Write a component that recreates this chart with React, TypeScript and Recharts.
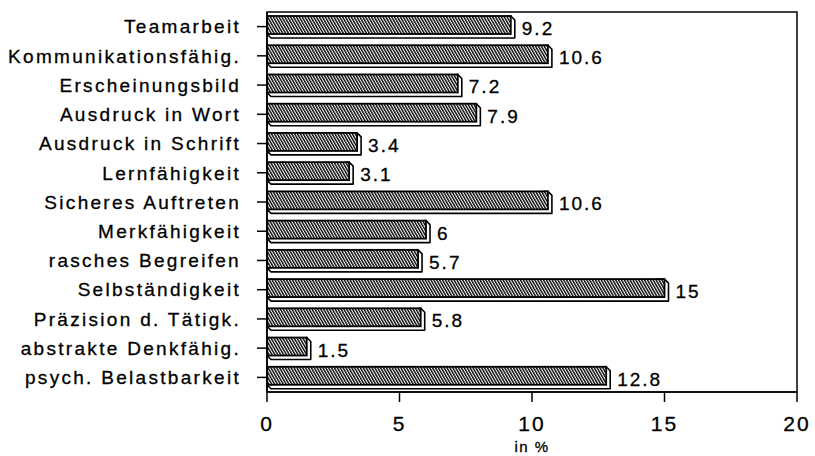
import React from 'react';
import { BarChart, Bar, XAxis, YAxis, LabelList, Label, ReferenceArea } from 'recharts';

const categories = [
  'Teamarbeit',
  'Kommunikationsfähig.',
  'Erscheinungsbild',
  'Ausdruck in Wort',
  'Ausdruck in Schrift',
  'Lernfähigkeit',
  'Sicheres Auftreten',
  'Merkfähigkeit',
  'rasches Begreifen',
  'Selbständigkeit',
  'Präzision d. Tätigk.',
  'abstrakte Denkfähig.',
  'psych. Belastbarkeit',
];
const values = [9.2, 10.6, 7.2, 7.9, 3.4, 3.1, 10.6, 6, 5.7, 15, 5.8, 1.5, 12.8];
const xTicks = [0, 5, 10, 15, 20];
const axisTitle = 'in %';

const data = categories.map((name, i) => ({ name, value: values[i] }));

const FONT = '"Liberation Sans", Arial, sans-serif';
const D = 4;

const Bar3D = (props: any) => {
  const { x, y, width, height } = props;
  const h = height - D;
  const side = `M${x},${y + h} L${x + D},${y + h + D} L${x + width + D},${y + h + D} L${x + width + D},${y + D} L${x + width},${y} Z`;
  return (
    <g>
      <path d={side} fill="#fff" stroke="#000" strokeWidth={1.6} strokeLinejoin="round" />
      <rect x={x} y={y} width={width} height={h} fill="url(#hatch)" stroke="#000" strokeWidth={1.8} />
    </g>
  );
};

const ValueLabel = (props: any) => {
  const { x, y, width, height, value } = props;
  return (
    <text
      x={x + width + D + 7}
      y={y + height / 2 + 8}
      fontFamily={FONT}
      fontSize={19}
      letterSpacing={2}
      fill="#000"
      stroke="#000"
      strokeWidth={0.3}
    >
      {String(value)}
    </text>
  );
};

const AxisTitle = (props: any) => {
  const { viewBox } = props;
  const cx = viewBox.x + viewBox.width / 2;
  return (
    <text x={cx} y={viewBox.y + 60} textAnchor="middle" fontFamily={FONT} fontSize={15} letterSpacing={1.5} fill="#000" stroke="#000" strokeWidth={0.3}>
      {axisTitle}
    </text>
  );
};

export default function App() {
  return (
    <div style={{ position: 'absolute', left: 0, top: 0, width: 815, height: 456, background: '#fff' }}>
      <BarChart
        width={815}
        height={456}
        data={data}
        layout="vertical"
        margin={{ top: 12, right: 18, bottom: 24, left: 6 }}
        barSize={22}
      >
        <defs>
          <pattern id="hatch" width="2.5" height="10" patternUnits="userSpaceOnUse" patternTransform="rotate(-30)">
            <rect width="2.5" height="10" fill="#fff" />
            <line x1="0.7" y1="0" x2="0.7" y2="10" stroke="#000" strokeWidth="1.4" />
          </pattern>
        </defs>
        <ReferenceArea x1={0} x2={20} fill="none" stroke="#000" strokeWidth={1.5} ifOverflow="visible" />
        <XAxis
          type="number"
          domain={[0, 20]}
          ticks={xTicks}
          interval={0}
          height={40}
          tickSize={10}
          tickMargin={14}
          axisLine={{ stroke: '#000', strokeWidth: 1.5 }}
          tickLine={{ stroke: '#000', strokeWidth: 1.5 }}
          tick={{ fill: '#000', fontFamily: FONT, fontSize: 21, letterSpacing: 2, stroke: '#000', strokeWidth: 0.3 }}
        >
          <Label content={<AxisTitle />} />
        </XAxis>
        <YAxis
          type="category"
          dataKey="name"
          width={261}
          interval={0}
          tickSize={10}
          tickMargin={16}
          axisLine={{ stroke: '#000', strokeWidth: 1.5 }}
          tickLine={{ stroke: '#000', strokeWidth: 1.5 }}
          tick={{ fill: '#000', fontFamily: FONT, fontSize: 19, letterSpacing: 2.3, stroke: '#000', strokeWidth: 0.3 }}
        />
        <Bar dataKey="value" shape={<Bar3D />} isAnimationActive={false}>
          <LabelList dataKey="value" content={<ValueLabel />} />
        </Bar>
      </BarChart>
    </div>
  );
}
